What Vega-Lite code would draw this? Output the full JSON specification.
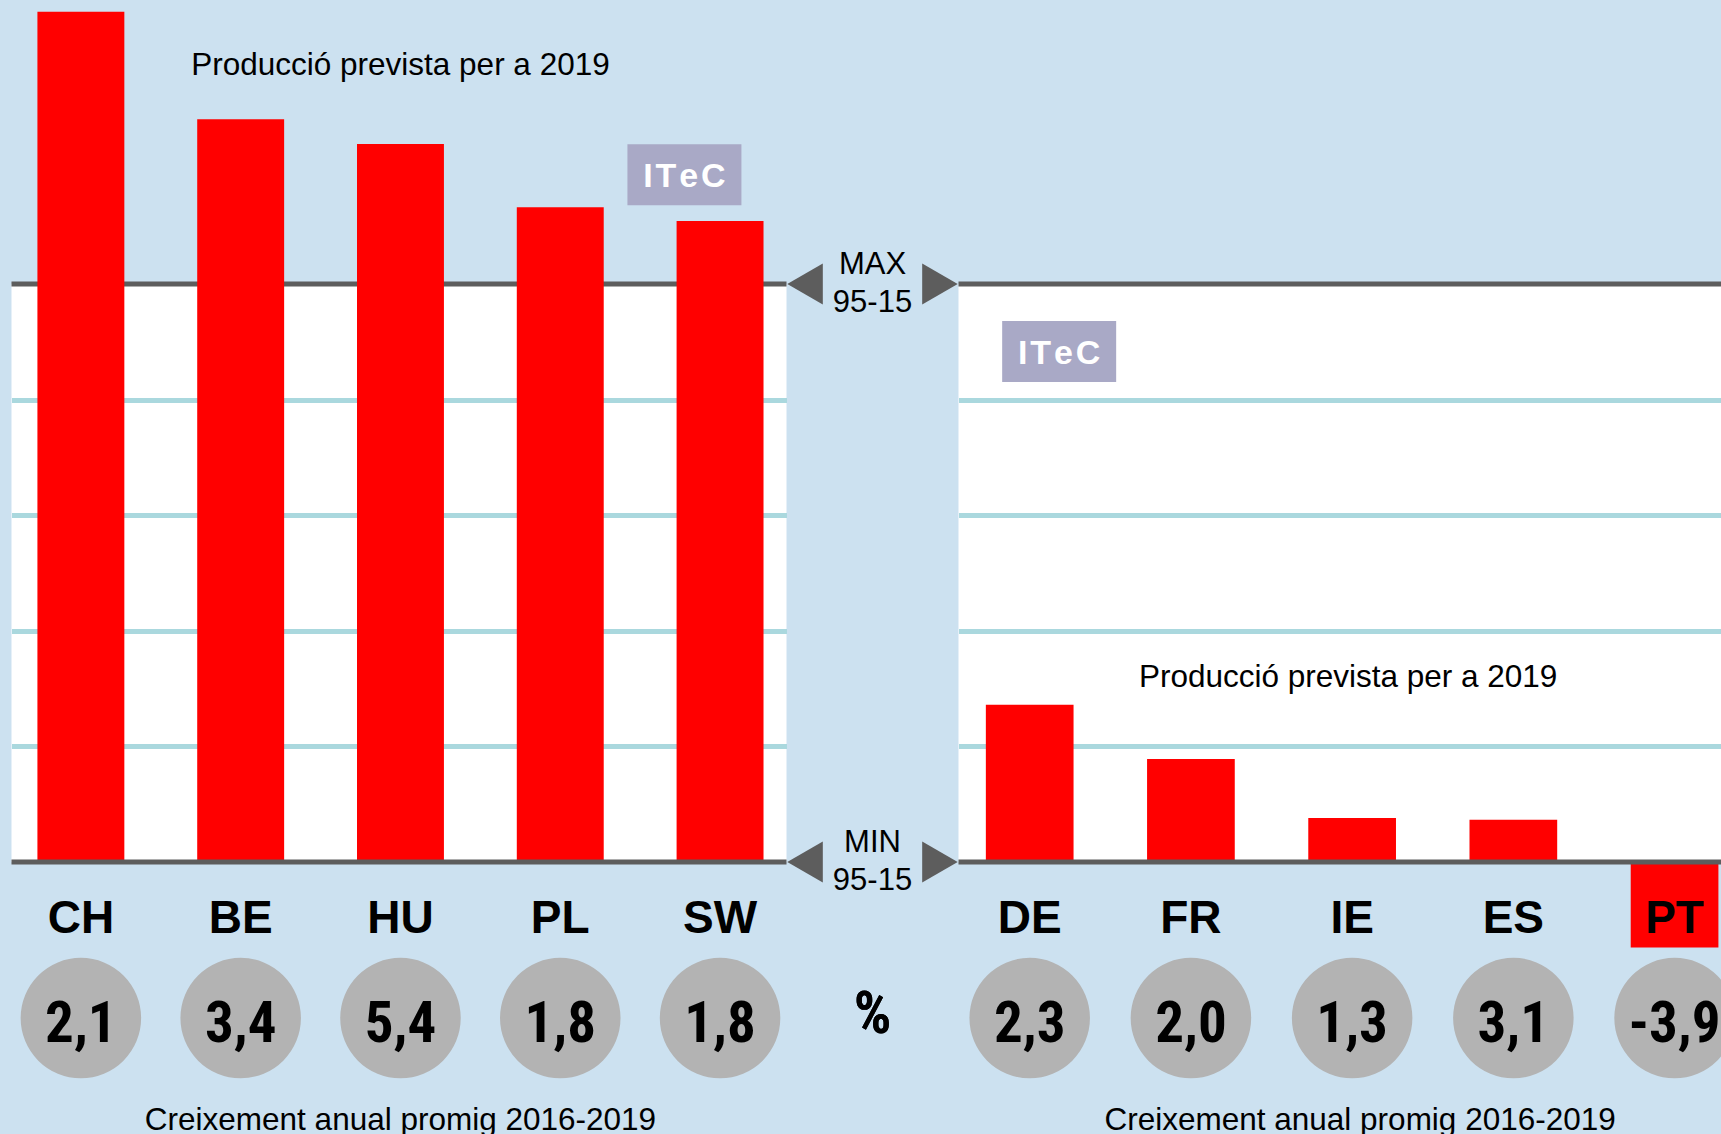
{
  "$schema": "https://vega.github.io/schema/vega-lite/v6.json",
  "background": "#cce1f0",
  "padding": {"left": 8.5, "top": 11, "right": 0, "bottom": 0},
  "autosize": {"type": "pad"},
  "spacing": 0,
  "bounds": "flush",
  "config": {
    "view": {"stroke": null},
    "font": "Liberation Sans",
    "locale": {"number": {"decimal": ",", "thousands": ".", "grouping": [3], "currency": ["", " €"], "minus": "-"}}
  },
  "datasets": {
    "countries": [
      {"country": "CH", "panel": "left", "production": 147.1, "growth": 2.1},
      {"country": "BE", "panel": "left", "production": 128.5, "growth": 3.4},
      {"country": "HU", "panel": "left", "production": 124.2, "growth": 5.4},
      {"country": "PL", "panel": "left", "production": 113.3, "growth": 1.8},
      {"country": "SW", "panel": "left", "production": 110.9, "growth": 1.8},
      {"country": "DE", "panel": "right", "production": 27.2, "growth": 2.3},
      {"country": "FR", "panel": "right", "production": 17.8, "growth": 2.0},
      {"country": "IE", "panel": "right", "production": 7.6, "growth": 1.3},
      {"country": "ES", "panel": "right", "production": 7.3, "growth": 3.1},
      {"country": "PT", "panel": "right", "production": -14.8, "growth": -3.9}
    ],
    "refs": [
      {"ref": "MAX", "period": "95-15", "label": "MAX 95-15", "level": 100},
      {"ref": "MIN", "period": "95-15", "label": "MIN 95-15", "level": 0}
    ],
    "notes": [
      {"note": "production", "text": "Producció prevista per a 2019"},
      {"note": "growth", "text": "Creixement anual promig 2016-2019"},
      {"note": "source", "text": "I\u200aT\u200ae\u200aC"}
    ]
  },
  "hconcat": [
    {
      "width": 775,
      "height": 578,
      "view": {"fill": "white", "stroke": null},
      "layer": [
        {
          "data": {"name": "refs"},
          "transform": [{"filter": {"field": "ref", "equal": "MAX"}}],
          "mark": {"type": "rule", "color": "#5d5d5d", "strokeWidth": 5},
          "encoding": {
            "y": {"field": "level", "type": "quantitative", "scale": {"domain": [0, 100], "nice": false, "zero": false},
              "axis": {"values": [20, 40, 60, 80], "grid": true, "gridColor": "#aad8de", "gridWidth": 5, "gridOpacity": 1, "domain": false, "ticks": false, "labels": false, "title": null}}
          }
        },
        {
          "data": {"name": "countries"},
          "transform": [{"filter": {"field": "panel", "equal": "left"}}],
          "mark": {"type": "bar", "color": "#ff0000"},
          "encoding": {
            "x": {"field": "country", "type": "nominal", "sort": null, "axis": null,
              "scale": {"domain": ["CH", "BE", "HU", "PL", "SW"], "paddingInner": 0.456, "paddingOuter": 0.153, "align": 0.53}},
            "y": {"field": "production", "type": "quantitative", "scale": {"domain": [0, 100], "nice": false, "zero": false}}
          }
        },
        {
          "data": {"name": "refs"},
          "transform": [{"filter": {"field": "ref", "equal": "MIN"}}],
          "mark": {"type": "rule", "color": "#5d5d5d", "strokeWidth": 5},
          "encoding": {
            "y": {"field": "level", "type": "quantitative", "scale": {"domain": [0, 100], "nice": false, "zero": false}}
          }
        },
        {
          "data": {"name": "countries"},
          "transform": [{"filter": {"field": "panel", "equal": "left"}}],
          "mark": {"type": "text", "font": "Liberation Sans", "fontWeight": "bold", "fontSize": 46, "baseline": "alphabetic", "align": "center", "color": "#000000"},
          "encoding": {
            "x": {"field": "country", "type": "nominal", "sort": null},
            "y": {"datum": -12.23, "type": "quantitative", "scale": {"domain": [0, 100], "nice": false, "zero": false}},
            "text": {"field": "country"}
          }
        },
        {
          "data": {"name": "countries"},
          "transform": [{"filter": {"field": "panel", "equal": "left"}}],
          "mark": {"type": "circle", "size": 14520, "color": "#b3b3b3", "opacity": 1},
          "encoding": {
            "x": {"field": "country", "type": "nominal", "sort": null},
            "y": {"datum": -27, "type": "quantitative", "scale": {"domain": [0, 100], "nice": false, "zero": false}}
          }
        },
        {
          "data": {"name": "countries"},
          "transform": [{"filter": {"field": "panel", "equal": "left"}}],
          "mark": {"type": "text", "font": "Roboto Condensed, Liberation Sans", "fontWeight": "bold", "fontSize": 57, "baseline": "alphabetic", "align": "center", "color": "#000000"},
          "encoding": {
            "x": {"field": "country", "type": "nominal", "sort": null},
            "y": {"datum": -31.1, "type": "quantitative", "scale": {"domain": [0, 100], "nice": false, "zero": false}},
            "text": {"field": "growth", "type": "quantitative", "format": ".1f"}
          }
        },
        {
          "data": {"name": "notes"},
          "transform": [{"filter": {"field": "note", "equal": "production"}}],
          "mark": {"type": "text", "font": "Liberation Sans", "fontSize": 31.5, "baseline": "alphabetic", "align": "center", "color": "#000000"},
          "encoding": {
            "x": {"datum": "HU", "type": "nominal", "bandPosition": 0.5},
            "y": {"datum": 136.16, "type": "quantitative", "scale": {"domain": [0, 100], "nice": false, "zero": false}},
            "text": {"field": "text"}
          }
        },
        {
          "data": {"name": "notes"},
          "transform": [{"filter": {"field": "note", "equal": "growth"}}],
          "mark": {"type": "text", "font": "Liberation Sans", "fontSize": 31.5, "baseline": "alphabetic", "align": "center", "color": "#000000"},
          "encoding": {
            "x": {"datum": "HU", "type": "nominal", "bandPosition": 0.5},
            "y": {"datum": -46.4, "type": "quantitative", "scale": {"domain": [0, 100], "nice": false, "zero": false}},
            "text": {"field": "text"}
          }
        },
        {
          "data": {"name": "notes"},
          "transform": [{"filter": {"field": "note", "equal": "source"}}],
          "mark": {"type": "point", "shape": "M-1,-0.535H1V0.535H-1Z", "size": 12996, "filled": true, "color": "#a9a9c6", "opacity": 1, "strokeWidth": 0},
          "encoding": {
            "x": {"datum": "SW", "type": "nominal", "bandPosition": 0.09},
            "y": {"datum": 118.9, "type": "quantitative", "scale": {"domain": [0, 100], "nice": false, "zero": false}}
          }
        },
        {
          "data": {"name": "notes"},
          "transform": [{"filter": {"field": "note", "equal": "source"}}],
          "mark": {"type": "text", "font": "Liberation Sans", "fontWeight": "bold", "fontSize": 34, "baseline": "middle", "align": "center", "color": "#ffffff"},
          "encoding": {
            "x": {"datum": "SW", "type": "nominal", "bandPosition": 0.09},
            "y": {"datum": 118.5, "type": "quantitative", "scale": {"domain": [0, 100], "nice": false, "zero": false}},
            "text": {"field": "text"}
          }
        }
      ]
    },
    {
      "width": 172,
      "height": 578,
      "view": {"fill": null, "stroke": null},
      "data": {"name": "refs"},
      "layer": [
        {
          "mark": {"type": "point", "shape": "triangle-left", "size": 1681, "filled": true, "color": "#5d5d5d", "opacity": 1, "strokeWidth": 0},
          "encoding": {
            "x": {"datum": "L", "type": "nominal", "scale": {"type": "point", "domain": ["L", "C", "R"], "padding": 0.275}, "axis": null},
            "y": {"field": "level", "type": "quantitative", "scale": {"domain": [0, 100], "nice": false, "zero": false}, "axis": null}
          }
        },
        {
          "mark": {"type": "point", "shape": "triangle-right", "size": 1681, "filled": true, "color": "#5d5d5d", "opacity": 1, "strokeWidth": 0},
          "encoding": {
            "x": {"datum": "R", "type": "nominal"},
            "y": {"field": "level", "type": "quantitative"}
          }
        },
        {
          "mark": {"type": "text", "font": "Liberation Sans", "fontSize": 31, "lineBreak": " ", "lineHeight": 38, "baseline": "middle", "dy": -19, "align": "center", "color": "#000000"},
          "encoding": {
            "x": {"datum": "C", "type": "nominal"},
            "y": {"field": "level", "type": "quantitative"},
            "text": {"field": "label"}
          }
        },
        {
          "mark": {"type": "text", "font": "Roboto Condensed, Liberation Sans", "fontWeight": "bold", "fontSize": 59, "baseline": "alphabetic", "align": "center", "color": "#000000"},
          "encoding": {
            "x": {"datum": "C", "type": "nominal"},
            "y": {"datum": -29.6, "type": "quantitative"},
            "text": {"value": "%"}
          }
        }
      ]
    },
    {
      "width": 764,
      "height": 578,
      "view": {"fill": "white", "stroke": null},
      "layer": [
        {
          "data": {"name": "refs"},
          "transform": [{"filter": {"field": "ref", "equal": "MAX"}}],
          "mark": {"type": "rule", "color": "#5d5d5d", "strokeWidth": 5},
          "encoding": {
            "y": {"field": "level", "type": "quantitative", "scale": {"domain": [0, 100], "nice": false, "zero": false},
              "axis": {"values": [20, 40, 60, 80], "grid": true, "gridColor": "#aad8de", "gridWidth": 5, "gridOpacity": 1, "domain": false, "ticks": false, "labels": false, "title": null}}
          }
        },
        {
          "data": {"name": "countries"},
          "transform": [{"filter": {"field": "panel", "equal": "right"}}],
          "mark": {"type": "bar", "color": "#ff0000"},
          "encoding": {
            "x": {"field": "country", "type": "nominal", "sort": null, "axis": null,
              "scale": {"domain": ["DE", "FR", "IE", "ES", "PT"], "paddingInner": 0.456, "paddingOuter": 0.0975, "align": 0.87}},
            "y": {"field": "production", "type": "quantitative", "scale": {"domain": [0, 100], "nice": false, "zero": false}}
          }
        },
        {
          "data": {"name": "refs"},
          "transform": [{"filter": {"field": "ref", "equal": "MIN"}}],
          "mark": {"type": "rule", "color": "#5d5d5d", "strokeWidth": 5},
          "encoding": {
            "y": {"field": "level", "type": "quantitative", "scale": {"domain": [0, 100], "nice": false, "zero": false}}
          }
        },
        {
          "data": {"name": "countries"},
          "transform": [{"filter": {"field": "panel", "equal": "right"}}],
          "mark": {"type": "text", "font": "Liberation Sans", "fontWeight": "bold", "fontSize": 46, "baseline": "alphabetic", "align": "center", "color": "#000000"},
          "encoding": {
            "x": {"field": "country", "type": "nominal", "sort": null},
            "y": {"datum": -12.23, "type": "quantitative", "scale": {"domain": [0, 100], "nice": false, "zero": false}},
            "text": {"field": "country"}
          }
        },
        {
          "data": {"name": "countries"},
          "transform": [{"filter": {"field": "panel", "equal": "right"}}],
          "mark": {"type": "circle", "size": 14520, "color": "#b3b3b3", "opacity": 1},
          "encoding": {
            "x": {"field": "country", "type": "nominal", "sort": null},
            "y": {"datum": -27, "type": "quantitative", "scale": {"domain": [0, 100], "nice": false, "zero": false}}
          }
        },
        {
          "data": {"name": "countries"},
          "transform": [{"filter": {"field": "panel", "equal": "right"}}],
          "mark": {"type": "text", "font": "Roboto Condensed, Liberation Sans", "fontWeight": "bold", "fontSize": 57, "baseline": "alphabetic", "align": "center", "color": "#000000"},
          "encoding": {
            "x": {"field": "country", "type": "nominal", "sort": null},
            "y": {"datum": -31.1, "type": "quantitative", "scale": {"domain": [0, 100], "nice": false, "zero": false}},
            "text": {"field": "growth", "type": "quantitative", "format": ".1f"}
          }
        },
        {
          "data": {"name": "notes"},
          "transform": [{"filter": {"field": "note", "equal": "production"}}],
          "mark": {"type": "text", "font": "Liberation Sans", "fontSize": 31.5, "baseline": "alphabetic", "align": "center", "color": "#000000", "dx": -4},
          "encoding": {
            "x": {"datum": "IE", "type": "nominal", "bandPosition": 0.5},
            "y": {"datum": 30.28, "type": "quantitative", "scale": {"domain": [0, 100], "nice": false, "zero": false}},
            "text": {"field": "text"}
          }
        },
        {
          "data": {"name": "notes"},
          "transform": [{"filter": {"field": "note", "equal": "growth"}}],
          "mark": {"type": "text", "font": "Liberation Sans", "fontSize": 31.5, "baseline": "alphabetic", "align": "center", "color": "#000000", "dx": 8},
          "encoding": {
            "x": {"datum": "IE", "type": "nominal", "bandPosition": 0.5},
            "y": {"datum": -46.4, "type": "quantitative", "scale": {"domain": [0, 100], "nice": false, "zero": false}},
            "text": {"field": "text"}
          }
        },
        {
          "data": {"name": "notes"},
          "transform": [{"filter": {"field": "note", "equal": "source"}}],
          "mark": {"type": "point", "shape": "M-1,-0.535H1V0.535H-1Z", "size": 12996, "filled": true, "color": "#a9a9c6", "opacity": 1, "strokeWidth": 0},
          "encoding": {
            "x": {"datum": "DE", "type": "nominal", "bandPosition": 0.836},
            "y": {"datum": 88.34, "type": "quantitative", "scale": {"domain": [0, 100], "nice": false, "zero": false}}
          }
        },
        {
          "data": {"name": "notes"},
          "transform": [{"filter": {"field": "note", "equal": "source"}}],
          "mark": {"type": "text", "font": "Liberation Sans", "fontWeight": "bold", "fontSize": 34, "baseline": "middle", "align": "center", "color": "#ffffff"},
          "encoding": {
            "x": {"datum": "DE", "type": "nominal", "bandPosition": 0.836},
            "y": {"datum": 87.94, "type": "quantitative", "scale": {"domain": [0, 100], "nice": false, "zero": false}},
            "text": {"field": "text"}
          }
        }
      ]
    }
  ]
}
